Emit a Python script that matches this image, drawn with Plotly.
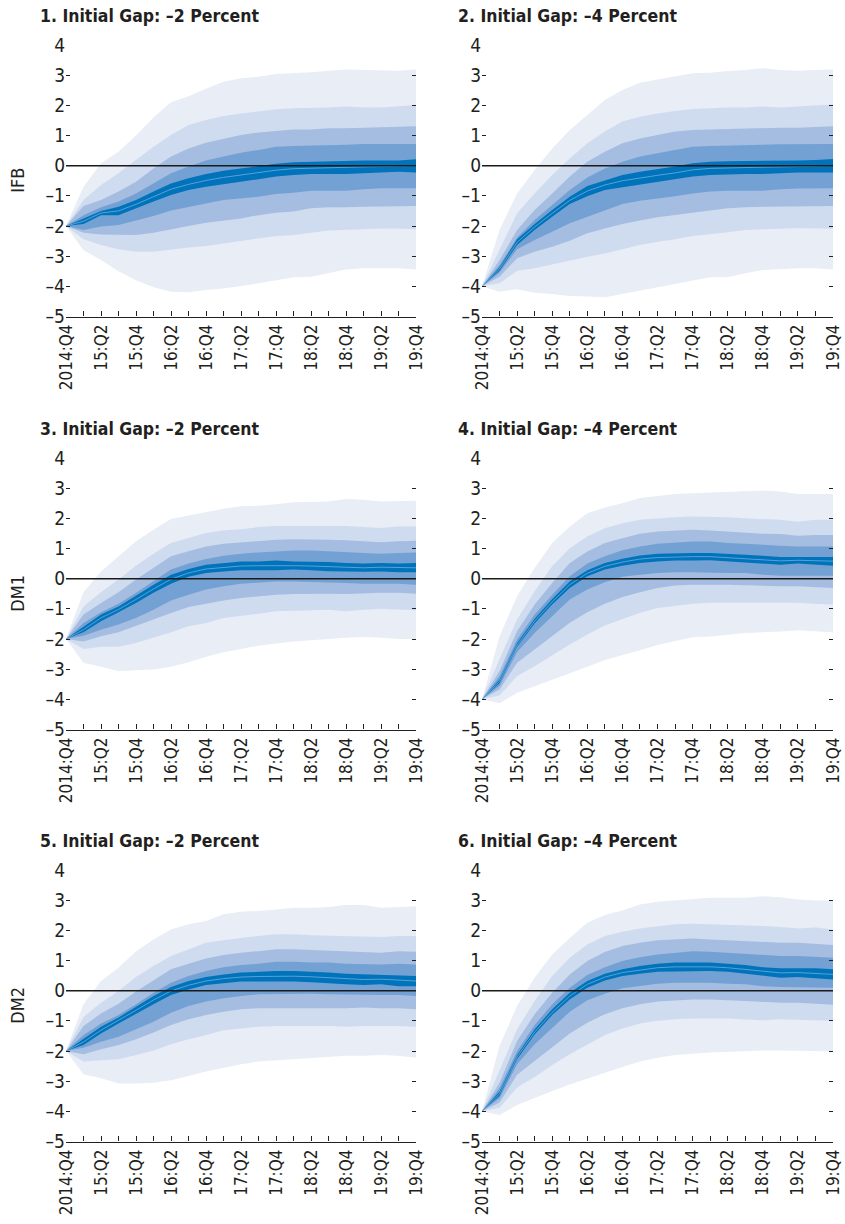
import plotly.graph_objects as go

QUARTERS = ["2014:Q4",
            "15:Q1", "15:Q2", "15:Q3", "15:Q4",
            "16:Q1", "16:Q2", "16:Q3", "16:Q4",
            "17:Q1", "17:Q2", "17:Q3", "17:Q4",
            "18:Q1", "18:Q2", "18:Q3", "18:Q4",
            "19:Q1", "19:Q2", "19:Q3", "19:Q4"]
X_LABELS = [q if i % 2 == 0 else "" for i, q in enumerate(QUARTERS)]

Y_TICKS = [-5, -4, -3, -2, -1, 0, 1, 2, 3, 4]
Y_TICKTEXT = ["–5", "–4", "–3", "–2", "–1", "0", "1", "2", "3", "4"]

TITLES = ["1. Initial Gap: –2 Percent", "2. Initial Gap: –4 Percent",
          "3. Initial Gap: –2 Percent", "4. Initial Gap: –4 Percent",
          "5. Initial Gap: –2 Percent", "6. Initial Gap: –4 Percent"]
ROW_LABELS = ["IFB", "DM1", "DM2"]

# ---------------- Panel 1 ----------------
P1_B1_HI = [-2, -0.7, 0.08, 0.46, 1.0, 1.6, 2.1, 2.3, 2.55, 2.78, 2.9, 2.95, 3.04, 3.06, 3.1, 3.15, 3.19, 3.17, 3.15, 3.15, 3.19]
P1_B1_LO = [-2, -2.8, -3.13, -3.5, -3.8, -4.03, -4.18, -4.2, -4.12, -4.07, -3.99, -3.9, -3.81, -3.7, -3.68, -3.55, -3.44, -3.4, -3.4, -3.4, -3.44]
P1_B2_HI = [-2, -1.14, -0.64, -0.25, 0.19, 0.63, 1.02, 1.35, 1.51, 1.65, 1.73, 1.79, 1.87, 1.9, 1.91, 1.93, 1.96, 1.93, 1.93, 1.96, 2.01]
P1_B2_LO = [-2, -2.44, -2.63, -2.77, -2.85, -2.85, -2.77, -2.71, -2.66, -2.57, -2.49, -2.41, -2.33, -2.3, -2.22, -2.15, -2.13, -2.11, -2.08, -2.08, -2.11]
P1_B3_HI = [-2, -1.34, -1.14, -0.86, -0.53, -0.09, 0.3, 0.57, 0.76, 0.9, 1.02, 1.1, 1.16, 1.2, 1.2, 1.24, 1.24, 1.26, 1.26, 1.29, 1.31]
P1_B3_LO = [-2, -2.22, -2.28, -2.3, -2.3, -2.22, -2.11, -2.0, -1.89, -1.82, -1.75, -1.64, -1.56, -1.52, -1.41, -1.38, -1.38, -1.36, -1.34, -1.34, -1.34]
P1_B4_HI = [-2, -1.64, -1.38, -1.19, -0.92, -0.59, -0.25, -0.03, 0.17, 0.3, 0.43, 0.52, 0.63, 0.65, 0.66, 0.66, 0.69, 0.72, 0.72, 0.72, 0.72]
P1_B4_LO = [-2, -2.13, -2.02, -1.97, -1.82, -1.67, -1.49, -1.36, -1.25, -1.14, -1.08, -1.03, -0.94, -0.9, -0.83, -0.83, -0.83, -0.78, -0.75, -0.75, -0.75]
P1_B5_HI = [-2, -1.75, -1.5, -1.36, -1.14, -0.86, -0.59, -0.42, -0.28, -0.17, -0.09, -0.03, 0.06, 0.11, 0.13, 0.13, 0.15, 0.17, 0.17, 0.17, 0.21]
P1_B5_LO = [-2, -1.93, -1.64, -1.64, -1.41, -1.19, -0.97, -0.81, -0.7, -0.61, -0.53, -0.45, -0.36, -0.31, -0.28, -0.28, -0.28, -0.25, -0.23, -0.2, -0.23]
P1_MED = [-2, -1.84, -1.57, -1.5, -1.28, -1.03, -0.78, -0.62, -0.49, -0.39, -0.31, -0.24, -0.15, -0.1, -0.08, -0.07, -0.06, -0.04, -0.03, -0.02, -0.01]

# ---------------- Panel 2 ----------------
P2_B1_HI = [-4, -2.13, -0.92, -0.14, 0.57, 1.18, 1.68, 2.18, 2.51, 2.75, 2.86, 2.95, 3.06, 3.08, 3.14, 3.17, 3.23, 3.17, 3.15, 3.17, 3.19]
P2_B1_LO = [-4, -4.18, -4.1, -4.21, -4.25, -4.32, -4.34, -4.36, -4.25, -4.14, -4.03, -3.92, -3.81, -3.7, -3.7, -3.57, -3.46, -3.44, -3.4, -3.4, -3.44]
P2_B2_HI = [-4, -2.77, -1.58, -0.92, -0.31, 0.24, 0.74, 1.13, 1.46, 1.62, 1.73, 1.81, 1.88, 1.9, 1.93, 1.93, 1.96, 1.93, 1.96, 1.98, 2.03]
P2_B2_LO = [-4, -3.9, -3.48, -3.4, -3.29, -3.15, -3.02, -2.91, -2.77, -2.63, -2.52, -2.44, -2.33, -2.28, -2.21, -2.13, -2.11, -2.09, -2.07, -2.07, -2.09]
P2_B3_HI = [-4, -3.13, -2.13, -1.47, -0.92, -0.36, 0.13, 0.46, 0.74, 0.9, 1.02, 1.13, 1.18, 1.2, 1.2, 1.24, 1.26, 1.26, 1.26, 1.29, 1.31]
P2_B3_LO = [-4, -3.68, -3.07, -2.85, -2.69, -2.49, -2.24, -2.08, -1.93, -1.82, -1.71, -1.64, -1.56, -1.49, -1.41, -1.38, -1.36, -1.34, -1.34, -1.34, -1.34]
P2_B4_HI = [-4, -3.29, -2.38, -1.8, -1.3, -0.81, -0.39, -0.09, 0.13, 0.3, 0.41, 0.52, 0.63, 0.65, 0.66, 0.66, 0.69, 0.71, 0.72, 0.72, 0.72]
P2_B4_LO = [-4, -3.55, -2.77, -2.46, -2.19, -1.91, -1.69, -1.49, -1.27, -1.16, -1.08, -1.01, -0.92, -0.86, -0.83, -0.83, -0.83, -0.78, -0.76, -0.75, -0.75]
P2_B5_HI = [-4, -3.37, -2.44, -1.93, -1.47, -1.03, -0.67, -0.48, -0.31, -0.2, -0.12, -0.03, 0.08, 0.13, 0.15, 0.15, 0.17, 0.17, 0.17, 0.19, 0.22]
P2_B5_LO = [-4, -3.48, -2.63, -2.13, -1.69, -1.27, -1.01, -0.81, -0.7, -0.61, -0.53, -0.45, -0.36, -0.31, -0.29, -0.28, -0.28, -0.25, -0.23, -0.22, -0.23]
P2_MED = [-4, -3.42, -2.54, -2.03, -1.58, -1.15, -0.84, -0.64, -0.5, -0.4, -0.32, -0.24, -0.14, -0.09, -0.07, -0.06, -0.05, -0.04, -0.03, -0.02, -0.01]

# ---------------- Panel 3 ----------------
P3_B1_HI = [-2, -0.45, 0.24, 0.74, 1.24, 1.62, 1.98, 2.09, 2.2, 2.32, 2.4, 2.42, 2.47, 2.53, 2.54, 2.56, 2.64, 2.62, 2.56, 2.58, 2.58]
P3_B1_LO = [-2, -2.79, -2.92, -3.07, -3.04, -3.01, -2.92, -2.77, -2.59, -2.44, -2.33, -2.22, -2.15, -2.08, -2.04, -2.0, -1.96, -1.93, -1.96, -2.0, -2.0]
P3_B2_HI = [-2, -0.92, -0.45, -0.03, 0.43, 0.83, 1.18, 1.35, 1.51, 1.6, 1.64, 1.71, 1.75, 1.75, 1.75, 1.75, 1.75, 1.71, 1.68, 1.73, 1.73]
P3_B2_LO = [-2, -2.33, -2.26, -2.26, -2.13, -1.96, -1.78, -1.58, -1.47, -1.3, -1.23, -1.16, -1.08, -1.08, -1.05, -1.03, -1.08, -1.03, -1.0, -1.03, -1.05]
P3_B3_HI = [-2, -1.19, -0.81, -0.45, -0.03, 0.35, 0.74, 0.91, 1.07, 1.16, 1.21, 1.26, 1.29, 1.31, 1.31, 1.29, 1.27, 1.24, 1.21, 1.24, 1.26]
P3_B3_LO = [-2, -2.08, -1.91, -1.78, -1.58, -1.36, -1.14, -0.94, -0.83, -0.72, -0.64, -0.58, -0.53, -0.51, -0.5, -0.5, -0.51, -0.5, -0.47, -0.47, -0.5]
P3_B4_HI = [-2, -1.47, -1.11, -0.83, -0.47, -0.09, 0.3, 0.5, 0.65, 0.76, 0.83, 0.87, 0.91, 0.93, 0.93, 0.91, 0.88, 0.85, 0.83, 0.85, 0.87]
P3_B4_LO = [-2, -1.89, -1.69, -1.52, -1.3, -1.03, -0.72, -0.53, -0.36, -0.25, -0.17, -0.12, -0.09, -0.09, -0.09, -0.12, -0.14, -0.17, -0.17, -0.17, -0.2]
P3_B5_HI = [-2, -1.6, -1.19, -0.92, -0.56, -0.2, 0.13, 0.32, 0.46, 0.52, 0.57, 0.57, 0.6, 0.57, 0.57, 0.55, 0.52, 0.5, 0.52, 0.5, 0.52]
P3_B5_LO = [-2, -1.78, -1.41, -1.11, -0.81, -0.47, -0.17, 0.06, 0.19, 0.24, 0.28, 0.28, 0.28, 0.3, 0.28, 0.25, 0.23, 0.23, 0.24, 0.21, 0.21]
P3_MED = [-2, -1.69, -1.3, -1.02, -0.69, -0.34, -0.02, 0.19, 0.32, 0.38, 0.42, 0.43, 0.44, 0.43, 0.42, 0.4, 0.37, 0.36, 0.38, 0.36, 0.36]

# ---------------- Panel 4 ----------------
P4_B1_HI = [-4, -1.91, -0.58, 0.35, 1.18, 1.73, 2.17, 2.36, 2.5, 2.67, 2.74, 2.81, 2.83, 2.85, 2.86, 2.89, 2.92, 2.89, 2.81, 2.81, 2.81]
P4_B1_LO = [-4, -4.13, -3.78, -3.58, -3.34, -3.14, -2.92, -2.7, -2.54, -2.37, -2.2, -2.06, -1.94, -1.92, -1.86, -1.8, -1.78, -1.75, -1.71, -1.75, -1.78]
P4_B2_HI = [-4, -2.68, -1.35, -0.42, 0.41, 1.01, 1.4, 1.67, 1.84, 1.95, 2.0, 2.04, 2.06, 2.06, 2.04, 2.0, 1.97, 1.95, 1.89, 1.95, 1.95]
P4_B2_LO = [-4, -3.87, -3.23, -2.9, -2.54, -2.18, -1.85, -1.55, -1.33, -1.13, -0.97, -0.89, -0.83, -0.8, -0.78, -0.78, -0.8, -0.8, -0.8, -0.83, -0.86]
P4_B3_HI = [-4, -3.06, -1.74, -0.86, -0.14, 0.52, 0.9, 1.18, 1.34, 1.49, 1.56, 1.6, 1.62, 1.6, 1.56, 1.53, 1.49, 1.48, 1.42, 1.45, 1.45]
P4_B3_LO = [-4, -3.67, -2.79, -2.35, -1.91, -1.46, -1.11, -0.83, -0.61, -0.45, -0.31, -0.23, -0.2, -0.2, -0.2, -0.2, -0.23, -0.25, -0.25, -0.28, -0.31]
P4_B4_HI = [-4, -3.23, -2.02, -1.19, -0.53, 0.08, 0.5, 0.74, 0.94, 1.07, 1.16, 1.2, 1.23, 1.23, 1.18, 1.16, 1.12, 1.09, 1.07, 1.07, 1.07]
P4_B4_LO = [-4, -3.56, -2.43, -1.8, -1.24, -0.69, -0.36, -0.12, 0.06, 0.13, 0.19, 0.21, 0.21, 0.21, 0.19, 0.19, 0.13, 0.1, 0.1, 0.1, 0.1]
P4_B5_HI = [-4, -3.34, -2.13, -1.33, -0.67, -0.09, 0.28, 0.52, 0.66, 0.77, 0.83, 0.85, 0.85, 0.85, 0.83, 0.79, 0.76, 0.72, 0.72, 0.72, 0.72]
P4_B5_LO = [-4, -3.47, -2.26, -1.49, -0.86, -0.31, 0.08, 0.3, 0.43, 0.52, 0.57, 0.6, 0.6, 0.61, 0.57, 0.54, 0.5, 0.46, 0.5, 0.46, 0.43]
P4_MED = [-4, -3.4, -2.2, -1.41, -0.77, -0.2, 0.18, 0.41, 0.55, 0.65, 0.7, 0.72, 0.73, 0.73, 0.7, 0.67, 0.63, 0.59, 0.61, 0.59, 0.58]

# ---------------- Panel 5 ----------------
P5_B1_HI = [-2, -0.45, 0.32, 0.76, 1.31, 1.7, 2.03, 2.2, 2.31, 2.53, 2.62, 2.64, 2.69, 2.75, 2.75, 2.77, 2.84, 2.84, 2.75, 2.77, 2.8]
P5_B1_LO = [-2, -2.77, -2.9, -3.08, -3.08, -3.05, -2.97, -2.83, -2.68, -2.55, -2.44, -2.35, -2.31, -2.27, -2.24, -2.2, -2.16, -2.16, -2.13, -2.16, -2.22]
P5_B2_HI = [-2, -0.87, -0.4, -0.01, 0.45, 0.82, 1.15, 1.37, 1.59, 1.67, 1.75, 1.81, 1.87, 1.87, 1.84, 1.83, 1.81, 1.81, 1.78, 1.81, 1.81]
P5_B2_LO = [-2, -2.35, -2.31, -2.27, -2.13, -1.98, -1.78, -1.61, -1.47, -1.31, -1.25, -1.2, -1.17, -1.17, -1.17, -1.17, -1.2, -1.17, -1.17, -1.17, -1.2]
P5_B3_HI = [-2, -1.17, -0.76, -0.43, -0.03, 0.34, 0.71, 0.89, 1.07, 1.18, 1.26, 1.31, 1.37, 1.37, 1.35, 1.34, 1.31, 1.29, 1.26, 1.31, 1.29]
P5_B3_LO = [-2, -2.11, -1.94, -1.8, -1.61, -1.39, -1.14, -0.95, -0.81, -0.7, -0.62, -0.58, -0.56, -0.56, -0.56, -0.58, -0.58, -0.56, -0.58, -0.58, -0.62]
P5_B4_HI = [-2, -1.47, -1.09, -0.81, -0.45, -0.07, 0.26, 0.49, 0.65, 0.78, 0.85, 0.89, 0.96, 0.96, 0.93, 0.93, 0.89, 0.87, 0.87, 0.89, 0.87]
P5_B4_LO = [-2, -1.89, -1.69, -1.53, -1.28, -1.03, -0.73, -0.51, -0.36, -0.25, -0.18, -0.12, -0.1, -0.1, -0.1, -0.12, -0.14, -0.14, -0.14, -0.14, -0.18]
P5_B5_HI = [-2, -1.61, -1.2, -0.89, -0.54, -0.18, 0.12, 0.32, 0.45, 0.54, 0.6, 0.63, 0.65, 0.65, 0.63, 0.6, 0.56, 0.54, 0.54, 0.52, 0.49]
P5_B5_LO = [-2, -1.8, -1.42, -1.09, -0.76, -0.45, -0.14, 0.04, 0.19, 0.25, 0.3, 0.3, 0.3, 0.3, 0.28, 0.25, 0.21, 0.19, 0.21, 0.15, 0.15]
P5_MED = [-2, -1.7, -1.31, -0.99, -0.65, -0.31, -0.01, 0.18, 0.32, 0.4, 0.45, 0.47, 0.48, 0.48, 0.46, 0.43, 0.39, 0.37, 0.38, 0.34, 0.32]

# ---------------- Panel 6 ----------------
P6_B1_HI = [-4, -1.83, -0.51, 0.43, 1.2, 1.75, 2.25, 2.51, 2.66, 2.86, 2.95, 2.99, 3.02, 3.08, 3.08, 3.08, 3.13, 3.1, 3.02, 2.99, 2.99]
P6_B1_LO = [-4, -4.12, -3.79, -3.57, -3.33, -3.11, -2.91, -2.72, -2.53, -2.35, -2.22, -2.13, -2.09, -2.05, -2.02, -2.0, -1.98, -1.98, -1.98, -2.0, -2.02]
P6_B2_HI = [-4, -2.66, -1.28, -0.34, 0.49, 1.09, 1.53, 1.81, 1.95, 2.06, 2.14, 2.2, 2.22, 2.2, 2.2, 2.17, 2.14, 2.11, 2.06, 2.09, 2.03]
P6_B2_LO = [-4, -3.88, -3.21, -2.86, -2.46, -2.11, -1.78, -1.47, -1.25, -1.09, -1.0, -0.95, -0.92, -0.92, -0.92, -0.95, -0.98, -0.95, -0.95, -0.98, -1.0]
P6_B3_HI = [-4, -3.05, -1.67, -0.78, -0.07, 0.54, 0.98, 1.28, 1.48, 1.59, 1.67, 1.7, 1.73, 1.7, 1.67, 1.64, 1.62, 1.59, 1.59, 1.56, 1.51]
P6_B3_LO = [-4, -3.71, -2.79, -2.33, -1.87, -1.42, -1.06, -0.78, -0.58, -0.45, -0.36, -0.32, -0.29, -0.29, -0.32, -0.34, -0.36, -0.4, -0.4, -0.43, -0.47]
P6_B4_HI = [-4, -3.23, -2.0, -1.14, -0.45, 0.1, 0.52, 0.78, 0.98, 1.11, 1.2, 1.26, 1.31, 1.29, 1.26, 1.23, 1.18, 1.15, 1.15, 1.11, 1.09]
P6_B4_LO = [-4, -3.57, -2.44, -1.78, -1.23, -0.7, -0.32, -0.1, 0.08, 0.15, 0.23, 0.26, 0.26, 0.26, 0.23, 0.21, 0.15, 0.12, 0.12, 0.1, 0.1]
P6_B5_HI = [-4, -3.34, -2.13, -1.28, -0.62, -0.07, 0.32, 0.56, 0.71, 0.82, 0.89, 0.93, 0.93, 0.93, 0.89, 0.85, 0.78, 0.74, 0.74, 0.74, 0.71]
P6_B5_LO = [-4, -3.49, -2.27, -1.45, -0.81, -0.29, 0.1, 0.34, 0.49, 0.56, 0.63, 0.65, 0.65, 0.65, 0.63, 0.56, 0.49, 0.43, 0.45, 0.41, 0.37]
P6_MED = [-4, -3.42, -2.2, -1.37, -0.72, -0.18, 0.21, 0.45, 0.6, 0.69, 0.76, 0.79, 0.79, 0.79, 0.76, 0.71, 0.64, 0.59, 0.6, 0.58, 0.54]

PANELS = [
    ([(P1_B1_HI, P1_B1_LO), (P1_B2_HI, P1_B2_LO), (P1_B3_HI, P1_B3_LO), (P1_B4_HI, P1_B4_LO), (P1_B5_HI, P1_B5_LO)], P1_MED),
    ([(P2_B1_HI, P2_B1_LO), (P2_B2_HI, P2_B2_LO), (P2_B3_HI, P2_B3_LO), (P2_B4_HI, P2_B4_LO), (P2_B5_HI, P2_B5_LO)], P2_MED),
    ([(P3_B1_HI, P3_B1_LO), (P3_B2_HI, P3_B2_LO), (P3_B3_HI, P3_B3_LO), (P3_B4_HI, P3_B4_LO), (P3_B5_HI, P3_B5_LO)], P3_MED),
    ([(P4_B1_HI, P4_B1_LO), (P4_B2_HI, P4_B2_LO), (P4_B3_HI, P4_B3_LO), (P4_B4_HI, P4_B4_LO), (P4_B5_HI, P4_B5_LO)], P4_MED),
    ([(P5_B1_HI, P5_B1_LO), (P5_B2_HI, P5_B2_LO), (P5_B3_HI, P5_B3_LO), (P5_B4_HI, P5_B4_LO), (P5_B5_HI, P5_B5_LO)], P5_MED),
    ([(P6_B1_HI, P6_B1_LO), (P6_B2_HI, P6_B2_LO), (P6_B3_HI, P6_B3_LO), (P6_B4_HI, P6_B4_LO), (P6_B5_HI, P6_B5_LO)], P6_MED),
]

BAND_COLORS = ["#E8EDF6", "#CFDBEF", "#A5BDE1", "#74A1D3", "#0073BB"]
MEDIAN_COLOR = "#6AAEE0"
TEXT_COLOR = "#231F20"
FONT = "DejaVu Sans Condensed, Liberation Sans, sans-serif"

W, H = 845, 1224
# pixel geometry of the plot areas
COL_X = [(66, 416), (482, 833)]
ROW_Y = [(45, 316.5), (458, 729.5), (870, 1141.5)]
TITLE_X = [38, 456]
TITLE_Y = [16, 429, 841]

fig = go.Figure()
layout = dict(width=W, height=H, margin=dict(l=0, r=0, t=0, b=0, autoexpand=False),
              template="none",
              paper_bgcolor="white", plot_bgcolor="white", showlegend=False,
              font=dict(family=FONT, color=TEXT_COLOR))
annotations = []
shapes = []

for i, (bands, med) in enumerate(PANELS):
    row, col = divmod(i, 2)
    n = i + 1
    xa = "x" if n == 1 else f"x{n}"
    ya = "y" if n == 1 else f"y{n}"
    for (hi, lo), color in zip(bands, BAND_COLORS):
        fig.add_trace(go.Scatter(
            x=QUARTERS + QUARTERS[::-1], y=hi + lo[::-1],
            fill="toself", fillcolor=color, mode="lines",
            line=dict(width=0, color=color), hoverinfo="skip",
            xaxis=xa, yaxis=ya))
    fig.add_trace(go.Scatter(x=QUARTERS, y=med, mode="lines",
                             line=dict(color=MEDIAN_COLOR, width=0.8),
                             xaxis=xa, yaxis=ya))
    x0, x1 = COL_X[col]
    y0, y1 = ROW_Y[row]
    xkey = "xaxis" if n == 1 else f"xaxis{n}"
    ykey = "yaxis" if n == 1 else f"yaxis{n}"
    layout[xkey] = dict(
        domain=[x0 / W, x1 / W], anchor=ya, type="category", automargin=False,
        range=[0, len(QUARTERS) - 1],
        tickmode="array", tickvals=QUARTERS, ticktext=X_LABELS,
        tickangle=-90, ticks="inside", ticklen=5, tickwidth=1.2, tickcolor=TEXT_COLOR,
        showline=True, linecolor=TEXT_COLOR, linewidth=1.3,
        showgrid=False, zeroline=False,
        tickfont=dict(size=17, family=FONT, color=TEXT_COLOR))
    layout[ykey] = dict(
        domain=[1 - y1 / H, 1 - y0 / H], anchor=xa, range=[-5, 4], automargin=False,
        tickmode="array", tickvals=Y_TICKS, ticktext=Y_TICKTEXT,
        ticks="inside", ticklen=4, tickwidth=1.2, tickcolor=TEXT_COLOR,
        mirror="ticks", showline=False, showgrid=False, zeroline=False,
        tickfont=dict(size=19, family=FONT, color=TEXT_COLOR))
    shapes.append(dict(type="line", xref=f"{xa} domain", yref=ya,
                       x0=0, x1=1, y0=0, y1=0, layer="above",
                       line=dict(color="#1a1a1a", width=1.5)))
    annotations.append(dict(
        text=f"<b>{TITLES[i]}</b>", xref="paper", yref="paper",
        x=TITLE_X[col] / W, y=1 - TITLE_Y[row] / H, xanchor="left", yanchor="middle",
        showarrow=False, font=dict(size=17.5, family=FONT, color=TEXT_COLOR)))
    if col == 0:
        annotations.append(dict(
            text=ROW_LABELS[row], xref="paper", yref="paper",
            x=18 / W, y=1 - ((y0 + y1) / 2) / H, xanchor="center", yanchor="middle",
            textangle=-90, showarrow=False,
            font=dict(size=18, family=FONT, color=TEXT_COLOR)))

layout["annotations"] = annotations
layout["shapes"] = shapes
fig.update_layout(**layout)
fig.write_html("out.html", config={"displayModeBar": False},
               post_script="document.body.style.margin='0';document.body.style.overflow='hidden';")
